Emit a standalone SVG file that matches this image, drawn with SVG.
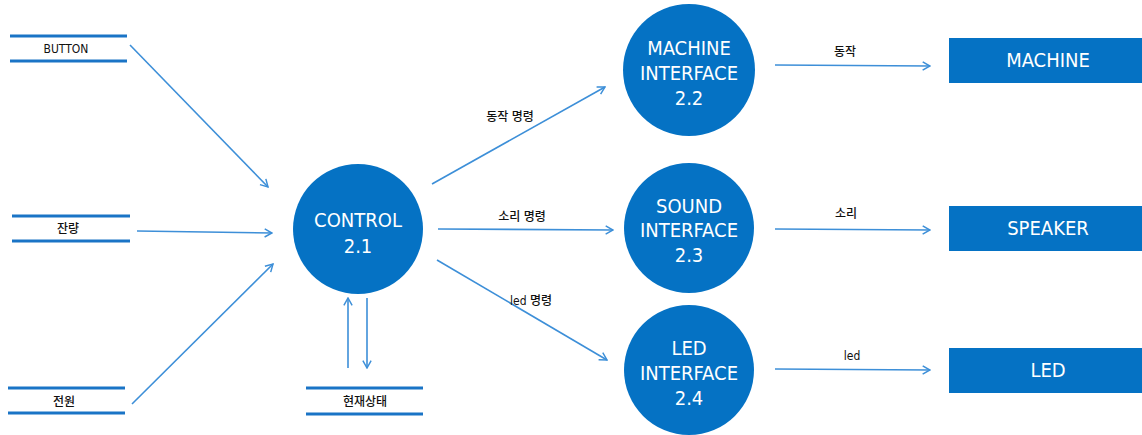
<svg xmlns="http://www.w3.org/2000/svg" width="1142" height="435" viewBox="0 0 1142 435">
<style>
.bg{fill:#ffffff}
.proc{fill:#0572c4}
.ext{fill:#0572c4}
.store{stroke:#1a74c6;stroke-width:3}
.flow{stroke:#3d8fd8;stroke-width:1.6;fill:none;marker-end:url(#arr)}
.wt{fill:#ffffff;font-family:"DejaVu Sans Condensed","DejaVu Sans",sans-serif;font-size:20px;text-anchor:middle}
.lbl{fill:#111111;font-family:"DejaVu Sans Condensed","Noto Sans CJK KR",sans-serif;font-size:12px;font-weight:500;text-anchor:middle}
</style>
<defs>
<marker id="arr" viewBox="0 0 12 12" refX="11" refY="6" markerWidth="11" markerHeight="11" markerUnits="userSpaceOnUse" orient="auto">
<path d="M3,1.5 L11,6 L3,10.5" fill="none" stroke="#3d8fd8" stroke-width="1.6"/>
</marker>
</defs>
<rect class="bg" width="1142" height="435"/>

<g id="store-button">
<line class="store" x1="10" y1="36" x2="127" y2="36"/>
<line class="store" x1="10" y1="61" x2="127" y2="61"/>
<text class="lbl" x="66" y="53">BUTTON</text>
</g>
<g id="store-remain">
<line class="store" x1="12" y1="216" x2="130" y2="216"/>
<line class="store" x1="12" y1="241" x2="130" y2="241"/>
<text class="lbl" x="68" y="233">잔량</text>
</g>
<g id="store-power">
<line class="store" x1="8" y1="388" x2="125" y2="388"/>
<line class="store" x1="8" y1="413" x2="125" y2="413"/>
<text class="lbl" x="64" y="406">전원</text>
</g>
<g id="store-state">
<line class="store" x1="306" y1="388" x2="423" y2="388"/>
<line class="store" x1="306" y1="414" x2="423" y2="414"/>
<text class="lbl" x="365" y="406">현재상태</text>
</g>

<g id="control">
<circle class="proc" cx="358" cy="229" r="65"/>
<text class="wt" x="358" y="227">CONTROL</text>
<text class="wt" x="358" y="253">2.1</text>
</g>
<g id="machine-if">
<circle class="proc" cx="689" cy="70" r="66"/>
<text class="wt" x="689" y="55">MACHINE</text>
<text class="wt" x="689" y="80">INTERFACE</text>
<text class="wt" x="689" y="105">2.2</text>
</g>
<g id="sound-if">
<circle class="proc" cx="689" cy="228" r="65"/>
<text class="wt" x="689" y="213">SOUND</text>
<text class="wt" x="689" y="237">INTERFACE</text>
<text class="wt" x="689" y="262">2.3</text>
</g>
<g id="led-if">
<circle class="proc" cx="689" cy="370" r="65"/>
<text class="wt" x="689" y="355">LED</text>
<text class="wt" x="689" y="380">INTERFACE</text>
<text class="wt" x="689" y="405">2.4</text>
</g>

<g id="machine">
<rect class="ext" x="949" y="38" width="193" height="45"/>
<text class="wt" x="1048" y="67">MACHINE</text>
</g>
<g id="speaker">
<rect class="ext" x="949" y="206" width="193" height="45"/>
<text class="wt" x="1048" y="235">SPEAKER</text>
</g>
<g id="led">
<rect class="ext" x="949" y="348" width="193" height="45"/>
<text class="wt" x="1048" y="377">LED</text>
</g>

<g id="connectors">
<line class="flow" x1="130" y1="45" x2="268" y2="187"/>
<line class="flow" x1="137" y1="231" x2="272" y2="233"/>
<line class="flow" x1="132" y1="404" x2="273" y2="264"/>
<line class="flow" x1="348" y1="368" x2="348" y2="298"/>
<line class="flow" x1="367" y1="298" x2="367" y2="368"/>
<line class="flow" x1="432" y1="184" x2="605" y2="87"/>
<line class="flow" x1="438" y1="229" x2="613" y2="230"/>
<line class="flow" x1="437" y1="260" x2="607" y2="360"/>
<line class="flow" x1="775" y1="65" x2="930" y2="66"/>
<line class="flow" x1="775" y1="229" x2="930" y2="230"/>
<line class="flow" x1="775" y1="369" x2="930" y2="370"/>
<text class="lbl" x="510" y="121">동작 명령</text>
<text class="lbl" x="522" y="221">소리 명령</text>
<text class="lbl" x="531" y="305">led 명령</text>
<text class="lbl" x="845" y="56">동작</text>
<text class="lbl" x="846" y="218">소리</text>
<text class="lbl" x="852" y="360">led</text>
</g>
</svg>
